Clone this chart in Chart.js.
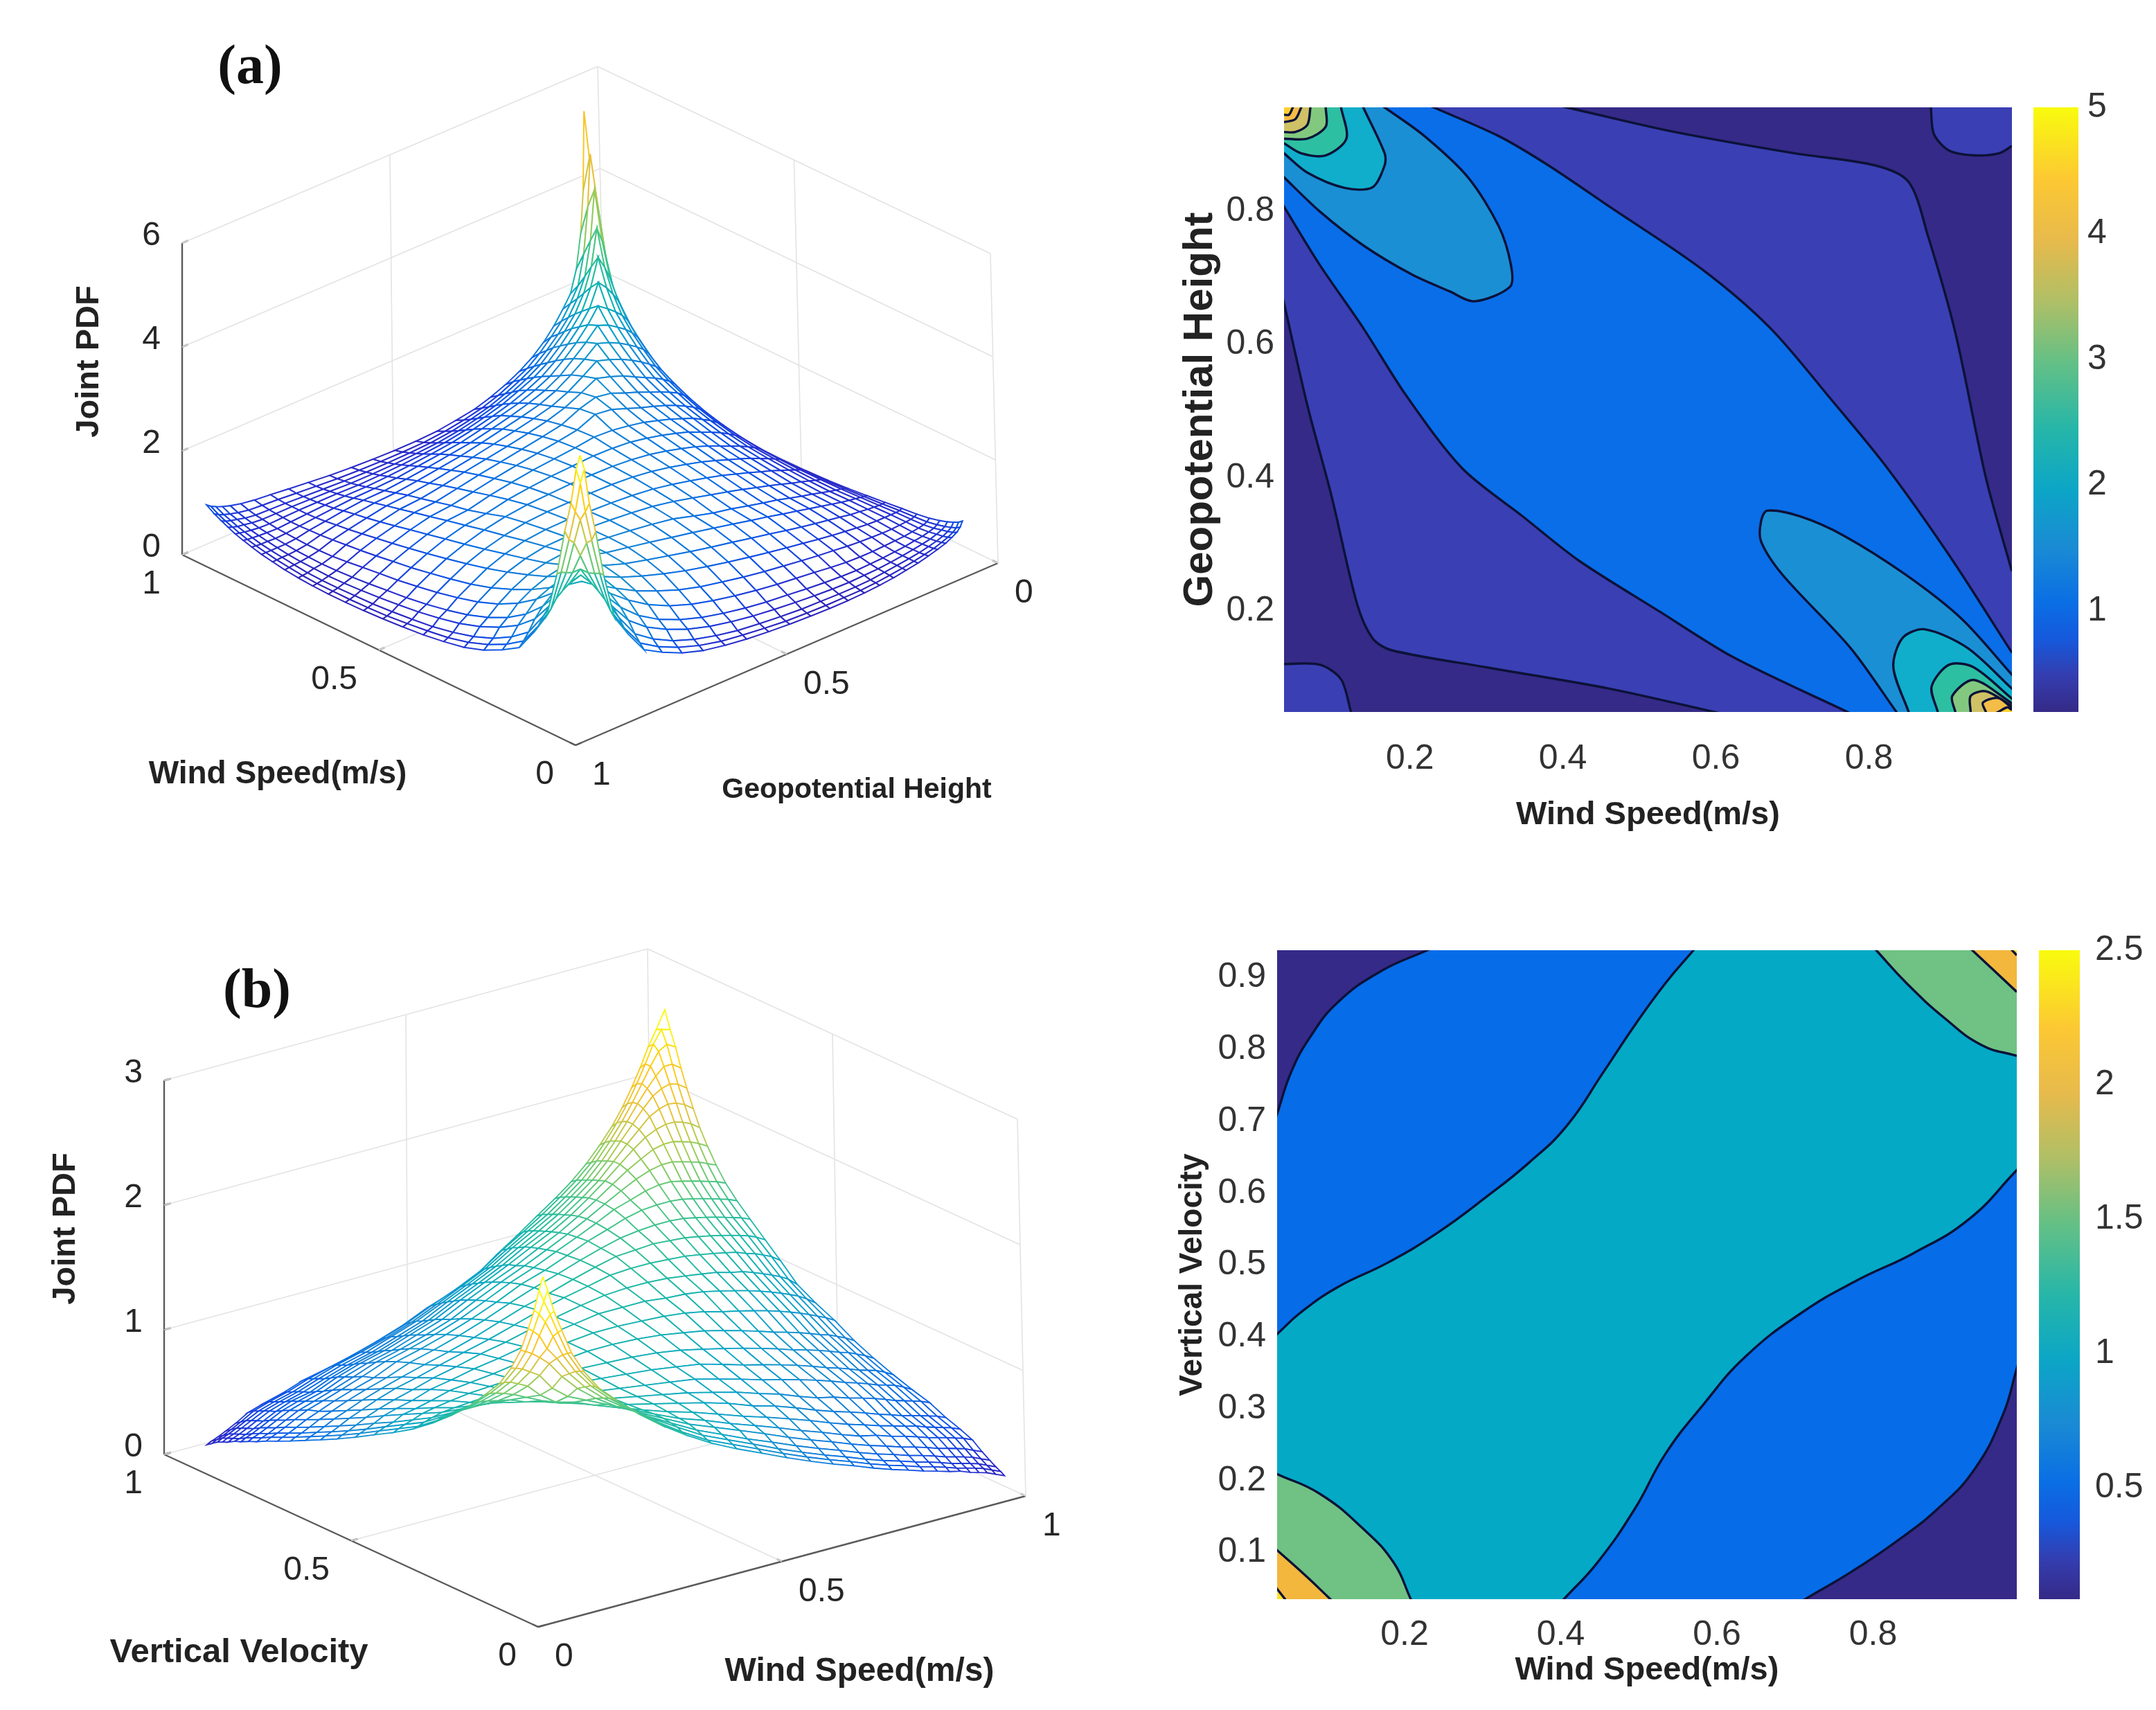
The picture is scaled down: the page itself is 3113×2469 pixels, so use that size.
<!DOCTYPE html>
<html><head><meta charset="utf-8">
<script src="https://cdn.jsdelivr.net/npm/chart.js@4"></script>
<style>html,body{margin:0;background:#fff}canvas{position:absolute;display:block}</style></head>
<body>
<script>
/* ---------- read-off values ---------- */
const axisTicks3D=[0,0.5,1];
const zTicksA=[0,2,4,6], zTicksB=[0,1,2,3];
const windGridA=[.035,.045,.058,.074,.094,.12,.152,.19,.233,.28,.33,.382,.434,.486,.537,.586,.632,.675,.715,.752,.786,.817,.845,.87,.892,.912,.93,.947,.965,.985];
const geoGridA=[.956,.946,.934,.919,.9,.875,.843,.805,.762,.715,.665,.613,.562,.51,.46,.41,.365,.322,.283,.247,.214,.184,.156,.131,.109,.09,.075,.063,.055,.049];
const windGridB=[.037,.047,.06,.076,.096,.122,.154,.192,.235,.282,.332,.384,.436,.488,.539,.588,.634,.677,.717,.754,.788,.819,.847,.872,.894,.914,.932,.949,.966,.984];
const vertGridB=[.035,.045,.058,.074,.094,.12,.152,.19,.233,.28,.33,.382,.434,.486,.537,.585,.63,.67,.71,.745,.775,.8,.823,.843,.86,.877,.892,.906,.92,.934];
const jointPdfA=[
[5.3,5.0,4.3,3.7,2.8,1.9,1.47,1.03,.83,.65,.52,.44,.38,.34,.31,.29,.28,.28,.29,.31,.34,.38,.42,.47,.52,.57,.63,.69,.76,.86],
[4.7,4.1,3.5,2.8,2.0,1.55,1.12,.9,.72,.58,.48,.42,.37,.33,.31,.3,.3,.3,.32,.35,.38,.42,.46,.5,.55,.6,.65,.71,.8],
[3.9,3.4,2.75,2.15,1.7,1.25,1.0,.8,.65,.54,.46,.41,.37,.34,.33,.32,.32,.33,.36,.39,.42,.45,.49,.53,.57,.62,.67,.75],
[3.1,2.7,2.25,1.85,1.45,1.17,.96,.79,.66,.57,.5,.45,.41,.38,.36,.35,.36,.37,.39,.42,.45,.48,.51,.55,.59,.63,.7],
[2.7,2.35,2.0,1.63,1.32,1.08,.9,.76,.66,.58,.52,.48,.44,.41,.39,.38,.39,.4,.42,.44,.47,.49,.52,.55,.59,.65],
[2.4,2.1,1.8,1.52,1.27,1.07,.92,.81,.72,.65,.59,.55,.51,.47,.44,.43,.43,.44,.45,.46,.48,.5,.52,.55,.6],
[2.05,1.85,1.63,1.42,1.24,1.08,.96,.87,.79,.72,.67,.62,.58,.55,.52,.5,.49,.48,.48,.49,.5,.51,.53,.56],
[1.9,1.72,1.54,1.39,1.25,1.13,1.03,.94,.86,.79,.73,.68,.63,.59,.56,.53,.51,.5,.5,.5,.5,.51,.53],
[1.75,1.61,1.47,1.36,1.26,1.16,1.07,.99,.91,.84,.77,.71,.66,.62,.58,.54,.52,.5,.49,.48,.48,.49],
[1.62,1.51,1.43,1.35,1.26,1.18,1.09,1.01,.93,.86,.79,.73,.67,.62,.57,.53,.5,.48,.46,.45,.45],
[1.5,1.44,1.39,1.33,1.26,1.14,1.04,.97,.89,.82,.76,.69,.63,.58,.53,.49,.46,.44,.42,.41],
[1.43,1.4,1.36,1.31,1.23,1.14,1.05,.97,.89,.81,.74,.67,.6,.55,.5,.46,.43,.4,.38],
[1.38,1.36,1.33,1.28,1.21,1.13,1.05,.97,.88,.8,.72,.65,.58,.52,.47,.43,.39,.36],
[1.36,1.35,1.32,1.27,1.2,1.12,1.04,.95,.86,.78,.7,.62,.55,.49,.44,.39,.35],
[1.35,1.34,1.31,1.26,1.19,1.11,1.03,.94,.84,.75,.67,.59,.52,.46,.4,.35],
[1.36,1.35,1.32,1.26,1.19,1.11,1.03,.93,.84,.75,.66,.58,.51,.44,.37],
[1.4,1.38,1.33,1.27,1.19,1.11,1.02,.94,.84,.75,.66,.58,.5,.42],
[1.53,1.49,1.38,1.28,1.2,1.12,1.03,.94,.85,.76,.67,.58,.48],
[1.58,1.53,1.42,1.33,1.23,1.15,1.06,.98,.88,.79,.69,.58],
[1.68,1.6,1.51,1.39,1.29,1.2,1.11,1.02,.93,.83,.7],
[1.78,1.7,1.61,1.5,1.39,1.28,1.18,1.08,.97,.84],
[1.9,1.82,1.72,1.61,1.5,1.4,1.28,1.16,1.0],
[2.05,1.97,1.85,1.74,1.62,1.5,1.38,1.2],
[2.25,2.12,1.99,1.87,1.74,1.6,1.43],
[2.55,2.38,2.2,2.03,1.87,1.68],
[2.9,2.65,2.4,2.15,1.92],
[3.35,3.05,2.72,2.35],
[4.0,3.6,3.0],
[4.6,3.8],
[5.35]];
const jointPdfB=[
[2.72,2.6,2.42,2.25,2.05,1.87,1.7,1.56,1.41,1.27,1.14,1.02,.92,.83,.74,.66,.59,.53,.47,.42,.38,.34,.31,.28,.26,.23,.21,.19,.16,.13],
[2.5,2.38,2.22,2.03,1.86,1.7,1.56,1.42,1.28,1.15,1.03,.94,.85,.76,.68,.61,.55,.49,.44,.4,.36,.33,.3,.27,.25,.23,.21,.18,.15],
[2.3,2.17,2.0,1.84,1.69,1.55,1.42,1.29,1.17,1.05,.96,.87,.78,.7,.63,.57,.51,.46,.42,.38,.35,.32,.29,.27,.25,.23,.2,.17],
[2.05,1.95,1.8,1.66,1.53,1.41,1.29,1.18,1.07,.98,.89,.81,.73,.66,.6,.54,.49,.45,.41,.38,.35,.32,.3,.28,.26,.23,.2],
[1.88,1.75,1.62,1.5,1.39,1.29,1.19,1.09,1.01,.93,.85,.77,.7,.64,.58,.53,.49,.45,.42,.39,.36,.34,.32,.3,.27,.24],
[1.62,1.52,1.45,1.37,1.28,1.19,1.1,1.03,.95,.88,.81,.74,.68,.62,.57,.54,.5,.47,.44,.41,.39,.37,.35,.33,.3],
[1.43,1.39,1.32,1.25,1.18,1.11,1.05,.98,.91,.85,.79,.73,.67,.62,.58,.54,.51,.48,.46,.43,.41,.39,.37,.34],
[1.33,1.28,1.22,1.17,1.12,1.07,1.02,.96,.89,.84,.78,.72,.67,.63,.59,.55,.52,.49,.47,.45,.43,.41,.38],
[1.24,1.2,1.16,1.12,1.08,1.04,.99,.94,.88,.83,.77,.72,.69,.65,.62,.59,.56,.53,.51,.49,.47,.44],
[1.18,1.15,1.12,1.09,1.06,1.03,.98,.93,.88,.84,.8,.76,.72,.68,.65,.62,.59,.57,.55,.52,.48],
[1.15,1.13,1.11,1.09,1.06,1.03,.98,.93,.89,.85,.81,.77,.73,.7,.67,.64,.62,.6,.57,.53],
[1.14,1.13,1.12,1.1,1.07,1.03,.99,.95,.91,.87,.83,.8,.77,.74,.71,.69,.66,.63,.59],
[1.15,1.15,1.14,1.12,1.09,1.06,1.02,.98,.94,.9,.87,.84,.81,.78,.76,.73,.7,.66],
[1.17,1.17,1.16,1.15,1.13,1.1,1.06,1.03,1.0,.97,.94,.91,.88,.85,.82,.79,.75],
[1.2,1.2,1.2,1.18,1.17,1.15,1.12,1.09,1.06,1.03,1.0,.97,.94,.91,.87,.82],
[1.23,1.24,1.24,1.23,1.21,1.19,1.17,1.14,1.12,1.09,1.06,1.03,1.0,.96,.9],
[1.28,1.29,1.29,1.28,1.27,1.25,1.23,1.21,1.19,1.16,1.14,1.11,1.08,1.03],
[1.33,1.34,1.35,1.34,1.33,1.31,1.29,1.27,1.25,1.23,1.21,1.18,1.14],
[1.38,1.4,1.41,1.41,1.4,1.38,1.36,1.34,1.32,1.3,1.28,1.25],
[1.45,1.48,1.49,1.49,1.48,1.46,1.44,1.42,1.4,1.38,1.35],
[1.52,1.56,1.58,1.58,1.56,1.54,1.52,1.5,1.48,1.45],
[1.62,1.66,1.68,1.68,1.66,1.64,1.62,1.59,1.56],
[1.72,1.77,1.79,1.79,1.77,1.75,1.72,1.68],
[1.84,1.88,1.9,1.9,1.88,1.85,1.8],
[1.96,2.0,2.02,2.01,1.98,1.93],
[2.08,2.12,2.14,2.12,2.07],
[2.2,2.26,2.26,2.21],
[2.36,2.4,2.36],
[2.5,2.48],
[2.62]];

/* contour levels of the upper right panel (wind speed, geopotential height) */
const a05Upper=[[.405,.956],[.542,.92],[.703,.887],[.808,.869],[.852,.844],[.877,.764],[.913,.618],[.953,.4],[.987,.26]];
const a05Lower=[[.0355,.662],[.066,.509],[.098,.371],[.131,.211],[.151,.16],[.175,.142],[.3,.116],[.461,.084],[.598,.049]];
const a05CornerTR=[[.881,.956],[.885,.916],[.905,.891],[.937,.884],[.97,.887],[.987,.898]];
const a05CornerBL=[[.0355,.121],[.082,.12],[.11,.098],[.123,.049]];
const a10Upper=[[.231,.956],[.316,.913],[.381,.869],[.461,.807],[.582,.713],[.671,.625],[.752,.516],[.824,.415],[.905,.284],[.987,.138]];
const a10Lower=[[.772,.049],[.623,.131],[.526,.2],[.421,.276],[.348,.342],[.268,.415],[.195,.524],[.139,.625],[.082,.72],[.0355,.807]];
const a15UL=[[.167,.956],[.219,.913],[.276,.851],[.316,.778],[.332,.72],[.331,.687],[.284,.665],[.252,.68],[.203,.705],[.139,.749],[.082,.8],[.0355,.851]];
const a20UL=[[.139,.956],[.167,.887],[.167,.869],[.151,.836],[.115,.835],[.066,.858],[.0355,.887]];
const a25UL=[[.11,.956],[.117,.909],[.09,.884],[.058,.887],[.0355,.902]];
const a30UL=[[.09,.956],[.09,.927],[.066,.909],[.0355,.909]];
const a35UL=[[.07,.956],[.066,.93],[.05,.919],[.0355,.919]];
const a40UL=[[.058,.956],[.05,.938],[.0355,.934]];
const a45UL=[[.047,.956],[.042,.945],[.0355,.945]];
const a15LR=[[.836,.049],[.776,.145],[.687,.255],[.659,.305],[.659,.335],[.667,.351],[.711,.342],[.768,.313],[.848,.255],[.921,.189],[.987,.105]];
const a20LR=[[.852,.049],[.832,.116],[.844,.16],[.873,.173],[.929,.145],[.987,.084]];
const a25LR=[[.89,.049],[.882,.087],[.905,.12],[.937,.116],[.987,.069]];
const a30LR=[[.913,.049],[.909,.073],[.937,.097],[.987,.062]];
const a35LR=[[.933,.049],[.933,.073],[.953,.08],[.987,.058]];
const a40LR=[[.953,.049],[.949,.063],[.969,.07],[.987,.055]];
const a45LR=[[.969,.049],[.981,.056],[.987,.052]];
/* contour levels of the lower right panel (wind speed, vertical velocity) */
const b05TL=[[.229,.938],[.17,.909],[.114,.865],[.079,.817],[.055,.769],[.037,.711]];
const b05BR=[[.984,.356],[.966,.291],[.93,.216],[.883,.161],[.828,.114],[.772,.073],[.713,.035]];
const b10Upper=[[.037,.404],[.067,.434],[.114,.469],[.178,.503],[.241,.544],[.305,.595],[.36,.643],[.408,.694],[.455,.769],[.495,.834],[.534,.892],[.57,.938]];
const b10Lower=[[.984,.632],[.923,.564],[.851,.516],[.78,.479],[.709,.434],[.637,.373],[.582,.305],[.534,.237],[.495,.161],[.447,.086],[.404,.035]];
const b15BL=[[.037,.209],[.091,.182],[.146,.134],[.186,.086],[.208,.035]];
const b15TR=[[.804,.938],[.843,.892],[.891,.844],[.939,.806],[.984,.791]];
const b20BL=[[.037,.103],[.075,.066],[.105,.035]];
const b20TR=[[.927,.938],[.984,.88]];
const b25BL=[[.037,.049],[.047,.035]];
const b25TR=[[.978,.938],[.984,.931]];
const contourTicksX=[.2,.4,.6,.8];
const contourTicksYA=[.2,.4,.6,.8];
const contourTicksYB=[.1,.2,.3,.4,.5,.6,.7,.8,.9];
const colorbarTicksA=[1,2,3,4,5];
const colorbarTicksB=[.5,1,1.5,2,2.5];
const colorbarRangeA=[.2,5], colorbarRangeB=[.087,2.5];

/* ---------- styling ---------- */
const SANS='"Liberation Sans",Arial,sans-serif';
const parula=[[0,'#352a87'],[.06,'#343daf'],[.12,'#1659dc'],[.18,'#0a6ee4'],[.27,'#1a8ad4'],[.37,'#0ca6c6'],[.47,'#27b6a8'],[.58,'#65c085'],[.68,'#b0bf66'],[.78,'#e7ba4c'],[.88,'#fcc833'],[1,'#f9fb0e']];
const meshColors=[[0,'#2f1fb0'],[.06,'#2830d0'],[.12,'#0f50e6'],[.18,'#0a6ee4'],[.27,'#1a8ad4'],[.37,'#0ca6c6'],[.47,'#1fbaa6'],[.58,'#55c880'],[.68,'#a8cc55'],[.78,'#eac23c'],[.88,'#fdc81e'],[1,'#f9fb0e']];
const hexRGB=h=>[1,3,5].map(k=>parseInt(h.substr(k,2),16));
function parulaAt(f){f=Math.max(0,Math.min(1,f));let k=1;while(k<meshColors.length-1&&meshColors[k][0]<f)k++;
 const [p0,c0]=meshColors[k-1],[p1,c1]=meshColors[k],t=(f-p0)/(p1-p0),A=hexRGB(c0),B=hexRGB(c1);
 return 'rgb('+A.map((v,n)=>Math.round(v+(B[n]-v)*t)).join(',')+')';}

function makeCanvas(l,t,w,h){const c=document.createElement('canvas');c.width=w;c.height=h;c.style.cssText=`left:${l}px;top:${t}px;width:${w}px;height:${h}px`;document.body.appendChild(c);return c;}
const textLayer={id:'textLayer',afterDatasetsDraw(ch,_,o){const x=ch.ctx,sx=ch.scales.x,sy=ch.scales.y;
 (o.items||[]).forEach(t=>{x.save();x.font=t.font;x.fillStyle=t.color||'#262626';x.textAlign=t.align||'center';x.textBaseline='middle';
 x.translate(sx.getPixelForValue(t.x),sy.getPixelForValue(t.y));if(t.rot)x.rotate(t.rot);x.fillText(t.text,0,0);x.restore();});}};

/* ---------- 3D panels ---------- */
function surfacePanel(cfg){
 const W=cfg.box[2],H=cfg.box[3],c=cfg.corners;
 const P=(a,b,zf)=>{const f=k=>{const lo=c.B[k]*(1-a)*(1-b)+c.L[k]*a*(1-b)+c.R[k]*(1-a)*b+c.K[k]*a*b,
   hi=c.Bt[k]*(1-a)*(1-b)+c.Lt[k]*a*(1-b)+c.Rt[k]*(1-a)*b+c.Kt[k]*a*b;return lo+(hi-lo)*zf;};return {x:f(0),y:f(1)};};
 const ds=[];
 const line=(pts,col,w)=>({data:pts,showLine:true,borderColor:col,borderWidth:w,pointRadius:0,fill:false});
 const zmax=cfg.zTicks[cfg.zTicks.length-1];
 const faceList=[];const n=cfg.gridA.length;
 const zAt=(i,j)=>i<=j?cfg.table[i][j-i]:cfg.table[j][i-j];
 for(let i=0;i<n-1;i++)for(let j=0;j<n-1;j++){
  const q=[[i,j],[i+1,j],[i+1,j+1],[i,j+1]];
  const pts=q.map(([p,r])=>P(cfg.gridA[p],cfg.gridC[r],zAt(p,r)/zmax));pts.push(pts[0]);
  const zm=q.reduce((s,[p,r])=>s+Math.min(zAt(p,r),cfg.cmax),0)/4;
  faceList.push({o:i+j,pts,col:parulaAt((zm-cfg.cmin)/(cfg.cmax-cfg.cmin))});}
 faceList.sort((p,q)=>p.o-q.o);
 faceList.forEach(f=>ds.push({data:f.pts,showLine:true,borderColor:f.col,borderWidth:cfg.meshWidth,backgroundColor:'#fff',fill:'shape',pointRadius:0,tension:0}));
 const GC='#e3e3e3',AX='#5a5a5a';
 const tz=cfg.zTicks;const tt=axisTicks3D;
 const seg=[];
 tz.forEach(z=>{seg.push([P(1,0,z/zmax),P(1,1,z/zmax),GC]);seg.push([P(1,1,z/zmax),P(0,1,z/zmax),GC]);});
 seg.push([P(1,.5,0),P(1,.5,1),GC],[P(.5,1,0),P(.5,1,1),GC],[P(1,1,0),P(1,1,1),GC],[P(0,1,0),P(0,1,1),GC]);
 seg.push([P(.5,0,0),P(.5,1,0),GC],[P(0,.5,0),P(1,.5,0),GC]);
 seg.push([P(1,0,0),P(1,0,1),AX],[P(1,0,0),P(0,0,0),AX],[P(0,0,0),P(0,1,0),AX]);
 tz.forEach(z=>seg.push([P(1,0,z/zmax),P(1,.014,z/zmax),AX]));
 tt.forEach(v=>{seg.push([P(v,0,0),P(v,.014,0),AX]);seg.push([P(0,v,0),P(.014,v,0),AX]);});
 seg.forEach(s=>ds.push(line([s[0],s[1]],s[2],s[2]===AX?2.4:1.6)));
 const items=[];const tf=cfg.tickFont;
 tz.forEach(z=>{const p=P(1,0,z/zmax);items.push({text:String(z),x:p.x-31,y:p.y-10,align:'right',font:tf});});
 tt.forEach(v=>{const p=P(v,0,0);items.push({text:String(v),x:p.x-31,y:p.y+43,align:'right',font:tf});
   const q=P(0,cfg.rightTick(v),0);items.push({text:String(v),x:q.x+24,y:q.y+44,align:'left',font:tf});});
 cfg.texts.forEach(t=>items.push(t));
 new Chart(makeCanvas(...cfg.box),{type:'scatter',data:{datasets:ds},plugins:[textLayer],options:{responsive:false,animation:false,devicePixelRatio:1,events:[],
  layout:{padding:0},plugins:{legend:{display:false},tooltip:{enabled:false},textLayer:{items}},
  scales:{x:{type:'linear',display:false,min:cfg.box[0],max:cfg.box[0]+W},y:{type:'linear',display:false,reverse:true,min:cfg.box[1],max:cfg.box[1]+H}}}});
}
const BOLD=s=>`bold ${s}px ${SANS}`, REG=s=>`${s}px ${SANS}`;
surfacePanel({box:[0,0,1620,1215],
 corners:{L:[263,801],B:[831,1076],R:[1441,813],K:[873,538],Lt:[263,351],Bt:[831,626],Rt:[1430,366],Kt:[863,96]},
 gridA:windGridA,gridC:geoGridA.map(v=>1-v),table:jointPdfA,zTicks:zTicksA,cmin:colorbarRangeA[0],cmax:colorbarRangeA[1],meshWidth:2,tickFont:REG(48),rightTick:v=>1-v,
 texts:[{text:'(a)',x:361,y:99,font:`bold 80px "Liberation Serif",serif`,color:'#111'},
  {text:'Joint PDF',x:129,y:522,rot:-Math.PI/2,font:BOLD(47),color:'#222'},
  {text:'Wind Speed(m/s)',x:401,y:1118,font:BOLD(46),color:'#222'},
  {text:'Geopotential Height',x:1237,y:1141,font:BOLD(41),color:'#222'}]});
surfacePanel({box:[0,1215,1620,1254],
 corners:{L:[237,2100],B:[777,2349],R:[1481,2160],K:[941,1911],Lt:[237,1560],Bt:[777,1809],Rt:[1469,1616],Kt:[935,1370]},
 gridA:vertGridB,gridC:windGridB,table:jointPdfB,zTicks:zTicksB,cmin:colorbarRangeB[0],cmax:colorbarRangeB[1],meshWidth:1.8,tickFont:REG(48),rightTick:v=>v,
 texts:[{text:'(b)',x:371,y:1433,font:`bold 80px "Liberation Serif",serif`,color:'#111'},
  {text:'Joint PDF',x:95,y:1774,rot:-Math.PI/2,font:BOLD(47),color:'#222'},
  {text:'Vertical Velocity',x:345,y:2386,font:BOLD(49),color:'#222'},
  {text:'Wind Speed(m/s)',x:1241,y:2414,font:BOLD(48),color:'#222'}]});

/* ---------- filled contour panels ---------- */
/* carry each contour straight on past the plot edge, so that fill and stroke share one path */
function ext(c){const n=c.length,pre=[c[0][0]+(c[0][0]-c[1][0])*1.5,c[0][1]+(c[0][1]-c[1][1])*1.5],post=[c[n-1][0]+(c[n-1][0]-c[n-2][0])*1.5,c[n-1][1]+(c[n-1][1]-c[n-2][1])*1.5];return [pre,...c,post];}
function contourPanel(cfg){
 const toXY=a=>a.map(p=>({x:p[0],y:p[1]}));
 const ds=[];
 const T=cfg.T;
 cfg.layers.forEach(l=>{
   if(l.poly) ds.push({data:toXY(l.poly),showLine:true,fill:'shape',backgroundColor:l.fill,borderWidth:0,borderColor:l.fill,pointRadius:0,tension:l.flat?0:T});
   if(l.curve){const e=ext(l.curve);
     if(l.fill) ds.push({data:toXY(e.concat(l.close)),showLine:true,fill:'shape',backgroundColor:l.fill,borderWidth:0,borderColor:l.fill,pointRadius:0,tension:T});
     ds.push({data:toXY(e),showLine:true,fill:false,borderColor:'#0c1238',borderWidth:3.4,pointRadius:0,tension:T});}});
 ds.reverse();
 new Chart(makeCanvas(...cfg.box),{type:'scatter',data:{datasets:ds},options:{responsive:false,animation:false,devicePixelRatio:1,events:[],
  layout:{padding:{top:cfg.top,right:cfg.right}},plugins:{legend:{display:false},tooltip:{enabled:false}},
  scales:{
   x:{type:'linear',min:cfg.xr[0],max:cfg.xr[1],grid:{display:false,drawTicks:false},border:{display:false},afterFit:s=>{s.height=cfg.bottom;s.paddingLeft=0;s.paddingRight=0},afterBuildTicks:s=>{s.ticks=contourTicksX.map(v=>({value:v}))},
      ticks:{padding:cfg.xpad,maxRotation:0,autoSkip:false,color:'#333',font:cfg.tickFont,callback:v=>v.toFixed(1)},
      title:{display:true,text:'Wind Speed(m/s)',color:'#222',font:{family:SANS,weight:'bold',size:cfg.titleX},padding:0}},
   y:{type:'linear',min:cfg.yr[0],max:cfg.yr[1],grid:{display:false,drawTicks:false},border:{display:false},afterFit:s=>{s.width=cfg.left;s.paddingTop=0;s.paddingBottom=0},afterBuildTicks:s=>{s.ticks=cfg.yticks.map(v=>({value:v}))},
      ticks:{padding:cfg.ypad,autoSkip:false,color:'#333',font:cfg.tickFont,callback:v=>v.toFixed(1)},
      title:{display:true,text:cfg.ytitle,color:'#222',font:{family:SANS,weight:'bold',size:cfg.titleY},padding:{top:8,bottom:0}}}}}});
}
const AC=['#352a87','#3a3fb3','#0a6ee8','#1b8fd4','#10aecb','#2dbfa2','#82c97f','#cfc165','#f3bd47','#fdd02f','#f9e91e'];
const TLc=[[-.5,1.5]],TRc=[[1.5,1.5]],BLc=[[-.5,-.5]],BRc=[[1.5,-.5]];
const full=[[-.5,-.5],[1.5,-.5],[1.5,1.5],[-.5,1.5]];
contourPanel({box:[1689,100,1236,1105],T:.3,top:55,right:20,left:165,bottom:177,xpad:38,ypad:14,xr:[.0355,.987],yr:[.049,.956],yticks:contourTicksYA,ytitle:'Geopotential Height',titleX:47,titleY:60,tickFont:{family:SANS,size:50},
 layers:[{poly:full,fill:AC[1],flat:true},
  {curve:a05Upper,close:TRc,fill:AC[0]},
  {curve:a05Lower,close:BLc,fill:AC[0]},
  {curve:a05CornerTR,close:TRc,fill:AC[1]},
  {curve:a05CornerBL,close:BLc,fill:AC[1]},
  {poly:ext(a10Upper).concat(BRc,ext(a10Lower),TLc),fill:AC[2]},
  {curve:a10Upper},{curve:a10Lower},
  {curve:a15UL,close:TLc,fill:AC[3]},{curve:a20UL,close:TLc,fill:AC[4]},{curve:a25UL,close:TLc,fill:AC[5]},{curve:a30UL,close:TLc,fill:AC[6]},{curve:a35UL,close:TLc,fill:AC[7]},{curve:a40UL,close:TLc,fill:AC[8]},{curve:a45UL,close:TLc,fill:AC[9]},
  {curve:a15LR,close:BRc,fill:AC[3]},{curve:a20LR,close:BRc,fill:AC[4]},{curve:a25LR,close:BRc,fill:AC[5]},{curve:a30LR,close:BRc,fill:AC[6]},{curve:a35LR,close:BRc,fill:AC[7]},{curve:a40LR,close:BRc,fill:AC[8]},{curve:a45LR,close:BRc,fill:AC[9]}]});
const BC=['#352a87','#066ce8','#04a9c6','#6fc283','#f2b73c','#fce12a'];
contourPanel({box:[1687,1330,1235,1110],T:.45,top:42,right:10,left:157,bottom:131,xpad:22,ypad:16,xr:[.0368,.984],yr:[.035,.938],yticks:contourTicksYB,ytitle:'Vertical Velocity',titleX:47,titleY:46,tickFont:{family:SANS,size:50},
 layers:[{poly:full,fill:BC[1],flat:true},
  {curve:b05TL,close:TLc,fill:BC[0]},
  {curve:b05BR,close:BRc,fill:BC[0]},
  {poly:ext(b10Upper).concat(TRc,ext(b10Lower),BLc),fill:BC[2]},
  {curve:b10Upper},{curve:b10Lower},
  {curve:b15BL,close:BLc,fill:BC[3]},
  {curve:b15TR,close:TRc,fill:BC[3]},
  {curve:b20BL,close:BLc,fill:BC[4]},
  {curve:b20TR,close:TRc,fill:BC[4]},
  {curve:b25BL,close:BLc,fill:BC[5]},
  {curve:b25TR,close:TRc,fill:BC[5]}]});

/* ---------- colour bars ---------- */
function colorbar(cfg){
 new Chart(makeCanvas(...cfg.box),{type:'bar',data:{labels:['pdf'],datasets:[{data:[cfg.range],barPercentage:1,categoryPercentage:1,borderWidth:0,
   backgroundColor:c=>{const a=c.chart.chartArea;if(!a)return '#000';const g=c.chart.ctx.createLinearGradient(0,a.bottom,0,a.top);parula.forEach(s=>g.addColorStop(s[0],s[1]));return g;}}]},
  options:{responsive:false,animation:false,devicePixelRatio:1,events:[],layout:{padding:{top:cfg.top,left:cfg.left,bottom:cfg.bottom}},plugins:{legend:{display:false},tooltip:{enabled:false}},
   scales:{x:{display:false},y:{position:'right',min:cfg.range[0],max:cfg.range[1],grid:{display:false,drawTicks:false},border:{display:false},afterFit:s=>{s.width=cfg.axisW;s.paddingTop=0;s.paddingBottom=0},
     afterBuildTicks:s=>{s.ticks=cfg.ticks.map(v=>({value:v}))},ticks:{padding:cfg.pad,color:'#333',autoSkip:false,font:cfg.font,callback:v=>String(v)}}}}});
}
colorbar({box:[2930,100,183,958],top:55,left:6,bottom:30,axisW:112,range:colorbarRangeA,ticks:colorbarTicksA,pad:13,font:{family:SANS,size:50}});
colorbar({box:[2935,1330,178,1009],top:42,left:9,bottom:30,axisW:110,range:colorbarRangeB,ticks:colorbarTicksB,pad:22,font:{family:SANS,size:50}});
</script>
</body></html>
